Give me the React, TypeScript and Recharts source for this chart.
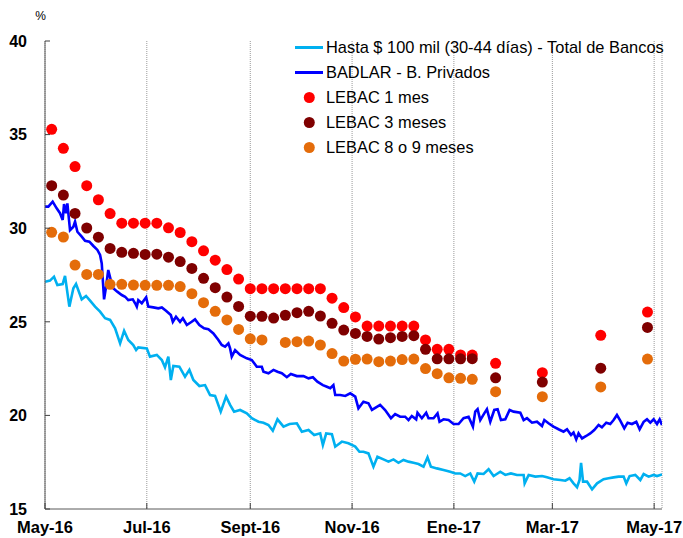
import React from "react";
import {
  ComposedChart,
  Line,
  Scatter,
  XAxis,
  YAxis,
  CartesianGrid,
  Legend,
} from "recharts";

// days are counted from 1 May 2016
const START = Date.UTC(2016, 4, 1);
const dayOf = (iso: string) => (Date.parse(iso + "T00:00:00Z") - START) / 86400000;

const MONTH_TICKS = [0, 61, 123, 184, 245, 304, 365];
const MONTH_LABELS = ["May-16", "Jul-16", "Sept-16", "Nov-16", "Ene-17", "Mar-17", "May-17"];
const Y_TICKS = [15, 20, 25, 30, 35, 40];

const SERIES_NAMES = [
  "Hasta $ 100 mil (30-44 días) - Total de Bancos",
  "BADLAR - B. Privados",
  "LEBAC 1 mes",
  "LEBAC 3 meses",
  "LEBAC 8 o 9 meses",
];

// Plazo fijo hasta $100 mil (30-44 días) - Total de Bancos
const DEPOSIT_DAYS = [
  0, 3, 5.4, 7.4, 10.6, 12, 14.6, 17, 18.6, 22, 24.6, 27, 30, 33, 36, 39, 42, 45, 47.4, 49.9,
  52.9, 54.6, 55.9, 61, 62.9, 67, 70, 71.9, 73.9, 75.4, 76.9, 80.5, 83.9, 86.5, 88.9, 92.5, 95.9,
  98.9, 101.9, 105.3, 108.5, 110.9, 113.3, 116.9, 120.9, 123.9, 127.9, 130.9, 133.9, 136.5, 139.3,
  142.9, 146.5, 150.9, 153.9, 157.9, 161.3, 164.9, 166.5, 168.5, 171.9, 173.9, 177.9, 181.8, 185.9,
  188.4, 190.8, 193.8, 196.8, 199.2, 202.8, 205.8, 208.8, 211.8, 214.8, 217.8, 220.8, 223.8, 226.8,
  229.2, 231.2, 234.8, 238.8, 242.8, 245.8, 248.8, 251.8, 254.8, 257.2, 259.2, 262.8, 265.8, 268.8,
  272.8, 275.8, 279.2, 282.8, 286.8, 287.4, 289.8, 293.8, 297.8, 300.8, 304.7, 308.8, 311.8, 314.3,
  316.7, 318.8, 320.3, 321.2, 322.4, 324.8, 327.8, 330.8, 334.7, 337.7, 340.7, 343.7, 346.7, 348.3,
  350.3, 353.7, 356.7, 358.7, 361.7, 364.7, 366.7, 369.7,
];
const DEPOSIT_RATES = [
  27.14, 27.2, 27.41, 26.97, 27.02, 27.45, 25.81, 26.79, 27.02, 26.2, 26.38, 26.13, 25.81, 25.54,
  25.19, 25.1, 24.65, 23.85, 24.52, 24.03, 23.76, 23.49, 23.63, 23.58, 23.14, 23.23, 22.96, 22.57,
  23.14, 21.89, 22.64, 22.6, 22.07, 22.43, 21.89, 21.57, 21.62, 21.09, 21.04, 20.2, 21.0, 20.56,
  20.2, 20.29, 20.11, 19.85, 19.66, 19.61, 19.49, 19.18, 19.79, 19.4, 19.54, 19.58, 19.13, 19.22,
  18.95, 19.04, 18.42, 19.04, 19.0, 18.33, 18.6, 18.51, 18.33, 18.06, 18.06, 17.97, 17.26, 17.79,
  17.65, 17.53, 17.65, 17.47, 17.62, 17.53, 17.47, 17.4, 17.26, 17.76, 17.26, 17.17, 17.08, 16.99,
  16.9, 16.9, 16.76, 16.9, 16.46, 16.9, 16.87, 17.12, 16.76, 16.99, 16.82, 16.9, 16.82, 16.82,
  16.37, 16.82, 16.73, 16.76, 16.69, 16.59, 16.55, 16.51, 16.64, 16.37, 16.16, 16.55, 17.47, 16.46,
  16.46, 16.05, 16.37, 16.59, 16.64, 16.69, 16.73, 16.73, 16.37, 16.76, 16.82, 16.55, 16.87, 16.73,
  16.82, 16.76, 16.85,
];

// BADLAR - B. Privados
const BADLAR_DAYS = [
  0, 2, 4.6, 7, 9, 10.6, 11.4, 12.6, 13.4, 15, 17, 18, 19.4, 22, 24, 26.6, 29, 31.4, 33, 34, 35.4,
  36.6, 37.9, 39.4, 40.9, 43.3, 46, 48, 49.9, 52.6, 54, 55, 55.9, 58, 60.6, 61.9, 64.9, 67.9, 70,
  72.5, 75.4, 76.6, 78.5, 80.9, 82.6, 85, 87.9, 89.9, 92.5, 95.3, 97.9, 100.9, 103.9, 105.9, 107.9,
  109.9, 110.9, 111.9, 113.9, 116.9, 120.9, 123.9, 126.9, 129.9, 130.9, 133.9, 136.9, 139.3, 141.9,
  144.9, 147.3, 150.9, 154.9, 157.9, 160.5, 163.2, 166.5, 168.9, 170.9, 172.8, 173.9, 176.9, 179.9,
  182.9, 185.9, 187.8, 190.8, 193.8, 195.9, 200.8, 203.8, 207.3, 209.8, 212.8, 215.8, 217.8, 219.8,
  222.4, 223.2, 225.8, 228.4, 229.8, 232.8, 235.2, 236.4, 238.8, 241.8, 244.8, 247.8, 250.8, 253.8,
  256.4, 257.8, 259.2, 260.8, 263.2, 264.8, 266.8, 269.2, 271.2, 273.2, 275.8, 278.4, 280.8, 284.8,
  286.8, 288.8, 291.8, 294.8, 297.8, 299.2, 301.7, 304.7, 307.7, 310.7, 312.8, 315.2, 316.7, 318.3,
  319.7, 321.8, 324.3, 326.7, 329.1, 331.7, 333.7, 336.3, 338.7, 340.7, 342.7, 344.7, 347.1, 349.1,
  351.7, 354.3, 356.3, 358.7, 360.7, 362.7, 364.7, 366.7, 368.3, 369.7,
];
const BADLAR_RATES = [
  31.15, 31.15, 31.42, 31.06, 30.8, 30.44, 31.29, 30.8, 31.33, 29.9, 30.08, 30.35, 29.81, 29.55,
  29.33, 29.28, 29.05, 28.84, 28.57, 28.12, 26.2, 26.88, 27.77, 27.23, 26.79, 26.61, 26.43, 26.34,
  26.16, 26.2, 25.99, 25.81, 26.16, 25.99, 26.31, 25.81, 25.77, 25.72, 25.77, 25.59, 25.36, 25.0,
  25.27, 25.0, 25.19, 24.83, 25.0, 25.13, 24.83, 24.65, 24.6, 24.38, 24.03, 23.76, 23.67, 23.85,
  23.58, 23.14, 23.49, 23.23, 23.05, 22.96, 22.6, 22.6, 22.33, 22.25, 22.43, 22.33, 22.25, 22.04,
  22.21, 22.1, 22.1, 21.98, 22.04, 21.8, 21.62, 21.53, 21.45, 21.62, 21.09, 21.09, 21.04, 21.18,
  21.0, 20.38, 20.73, 20.65, 20.29, 20.56, 20.29, 19.85, 20.07, 19.93, 19.93, 19.75, 19.97, 19.79,
  20.14, 19.85, 20.14, 19.85, 19.85, 20.11, 19.66, 19.79, 19.75, 19.54, 19.54, 19.85, 19.93, 19.4,
  20.2, 20.33, 19.75, 20.11, 20.33, 19.66, 20.29, 20.33, 19.75, 19.79, 20.29, 20.2, 20.14, 19.75,
  19.85, 19.61, 19.66, 19.43, 19.75, 19.58, 19.4, 19.26, 19.13, 19.26, 18.95, 19.08, 18.72, 19.04,
  18.77, 18.9, 19.04, 19.22, 19.49, 19.36, 19.61, 19.54, 19.75, 20.02, 19.72, 19.31, 19.61, 19.54,
  19.66, 19.26, 19.66, 19.79, 19.61, 19.79, 19.54, 19.79, 19.49,
];

// LEBAC auction dates (weekly, with gaps in 2017)
const LEBAC_DATES = [
  "2016-05-05", "2016-05-12", "2016-05-19", "2016-05-26", "2016-06-02", "2016-06-09", "2016-06-16",
  "2016-06-23", "2016-06-30", "2016-07-07", "2016-07-14", "2016-07-21", "2016-07-28", "2016-08-04",
  "2016-08-11", "2016-08-18", "2016-08-25", "2016-09-01", "2016-09-08", "2016-09-15", "2016-09-22",
  "2016-09-29", "2016-10-06", "2016-10-13", "2016-10-20", "2016-10-27", "2016-11-03", "2016-11-10",
  "2016-11-17", "2016-11-24", "2016-12-01", "2016-12-08", "2016-12-15", "2016-12-22", "2016-12-29",
  "2017-01-05", "2017-01-12", "2017-01-26", "2017-02-23", "2017-03-30", "2017-04-27",
];
const LEBAC_1M = [
  35.28, 34.27, 33.29, 32.27, 31.52, 30.78, 30.27, 30.27, 30.27, 30.27, 30.02, 29.77, 29.28, 28.79,
  28.29, 27.79, 27.28, 26.77, 26.77, 26.77, 26.77, 26.77, 26.77, 26.77, 26.26, 25.76, 25.26, 24.77,
  24.77, 24.77, 24.77, 24.77, 24.03, 23.53, 23.53, 23.23, 23.22, 22.78, 22.28, 24.28, 25.52,
];
const LEBAC_3M = [
  32.27, 31.77, 30.79, 30.01, 29.52, 28.92, 28.71, 28.66, 28.6, 28.61, 28.45, 28.22, 27.85, 27.32,
  26.82, 26.32, 25.82, 25.3, 25.29, 25.2, 25.35, 25.49, 25.56, 25.31, 24.92, 24.56, 24.38, 24.22,
  24.08, 24.15, 24.22, 24.26, 23.53, 23.02, 23.02, 23.02, 23.03, 22.01, 21.78, 22.52, 24.7,
];
const LEBAC_8M = [
  29.78, 29.53, 28.03, 27.53, 27.53, 27.0, 27.0, 26.96, 26.95, 26.95, 26.95, 26.88, 26.5, 26.02,
  25.56, 25.1, 24.59, 24.09, 24.03, null, 23.9, 23.94, 23.97, 23.76, 23.3, 22.9, 23.0, 23.01,
  22.87, 22.9, 22.98, 23.01, 22.5, 22.23, 22.01, 21.98, 21.93, 21.27, 21.0, 21.52, 23.01,
];

const lineData = (days: number[], rates: number[]) => days.map((d, i) => ({ day: d, v: rates[i] }));
const lebacData = (vals: (number | null)[]) =>
  LEBAC_DATES.map((iso, i) => ({ day: dayOf(iso), v: vals[i] })).filter((p) => p.v != null);

const FONT = "'Liberation Sans', Arial, sans-serif";

const YTick = ({ x, y, payload }: any) => (
  <g>
    <line x1={x} x2={x + 5} y1={y} y2={y} stroke="#404040" strokeWidth={1} />
    <text x={x - 18} y={y} dy="0.36em" textAnchor="end" fontSize={16} fontWeight="bold" fill="#000" fontFamily={FONT}>
      {payload.value}
    </text>
  </g>
);

const XTick = ({ x, y, payload }: any) => {
  const idx = MONTH_TICKS.indexOf(payload.value);
  return (
    <g>
      <line x1={x} x2={x} y1={y - 6} y2={y} stroke="#404040" strokeWidth={1} />
      <text x={x} y={y + 24} textAnchor="middle" fontSize={16.5} fontWeight="bold" fill="#000" fontFamily={FONT}>
        {MONTH_LABELS[idx]}
      </text>
    </g>
  );
};

const Dot = (color: string) => (props: any) => <circle cx={props.cx} cy={props.cy} r={5.5} fill={color} />;

const renderLegend = (props: any) => {
  const items = [...props.payload].sort(
    (a: any, b: any) => SERIES_NAMES.indexOf(a.value) - SERIES_NAMES.indexOf(b.value)
  );
  return (
    <div style={{ fontFamily: FONT, fontSize: 16.4, color: "#000" }}>
      {items.map((entry: any) => (
        <div key={entry.value} style={{ display: "flex", alignItems: "center", height: 25.2 }}>
          <svg width={31} height={25} style={{ flex: "none" }}>
            {entry.type === "line" ? (
              <line x1={0} x2={28} y1={12.5} y2={12.5} stroke={entry.color} strokeWidth={3} />
            ) : (
              <circle cx={14.3} cy={12.5} r={5.5} fill={entry.color} />
            )}
          </svg>
          <span style={{ whiteSpace: "nowrap" }}>{entry.value}</span>
        </div>
      ))}
    </div>
  );
};

export default function App() {
  return (
    <div style={{ position: "absolute", left: 0, top: 0, width: 683, height: 538, background: "#fff" }}>
      <svg width={60} height={30} style={{ position: "absolute", left: 0, top: 0 }}>
        <text x={40.5} y={20} textAnchor="middle" fontSize={12} fontFamily={FONT} fill="#000">
          %
        </text>
      </svg>
      <ComposedChart
        width={683}
        height={538}
        margin={{ top: 41, right: 21, left: 0, bottom: 0 }}
        style={{ fontFamily: FONT }}
      >
        <CartesianGrid horizontal={false} stroke="#9a9a9a" strokeDasharray="1 1" />
        <XAxis
          type="number"
          dataKey="day"
          domain={[0, 369.7]}
          ticks={MONTH_TICKS}
          allowDataOverflow
          height={29}
          tickSize={0}
          tickMargin={0}
          tickLine={false}
          axisLine={{ stroke: "#595959", strokeWidth: 1 }}
          tick={<XTick />}
          interval={0}
        />
        <YAxis
          type="number"
          dataKey="v"
          domain={[15, 40]}
          ticks={Y_TICKS}
          allowDataOverflow
          width={45}
          tickSize={0}
          tickMargin={0}
          tickLine={false}
          axisLine={{ stroke: "#595959", strokeWidth: 1 }}
          tick={<YTick />}
          interval={0}
        />
        <Line
          data={lineData(DEPOSIT_DAYS, DEPOSIT_RATES)}
          dataKey="v"
          name={SERIES_NAMES[0]}
          stroke="#00B0F0"
          strokeWidth={2.6}
          dot={false}
          type="linear"
          legendType="line"
          isAnimationActive={false}
        />
        <Line
          data={lineData(BADLAR_DAYS, BADLAR_RATES)}
          dataKey="v"
          name={SERIES_NAMES[1]}
          stroke="#0000FF"
          strokeWidth={2.6}
          dot={false}
          type="linear"
          legendType="line"
          isAnimationActive={false}
        />
        <Scatter
          data={lebacData(LEBAC_1M)}
          dataKey="v"
          name={SERIES_NAMES[2]}
          fill="#FF0000"
          shape={Dot("#FF0000")}
          legendType="circle"
          isAnimationActive={false}
        />
        <Scatter
          data={lebacData(LEBAC_3M)}
          dataKey="v"
          name={SERIES_NAMES[3]}
          fill="#7F0000"
          shape={Dot("#7F0000")}
          legendType="circle"
          isAnimationActive={false}
        />
        <Scatter
          data={lebacData(LEBAC_8M)}
          dataKey="v"
          name={SERIES_NAMES[4]}
          fill="#E46C0A"
          shape={Dot("#E46C0A")}
          legendType="circle"
          isAnimationActive={false}
        />
        <Legend
          layout="vertical"
          align="center"
          verticalAlign="middle"
          content={renderLegend}
          wrapperStyle={{ left: 295, top: 34.5, width: "auto" }}
        />
      </ComposedChart>
    </div>
  );
}
